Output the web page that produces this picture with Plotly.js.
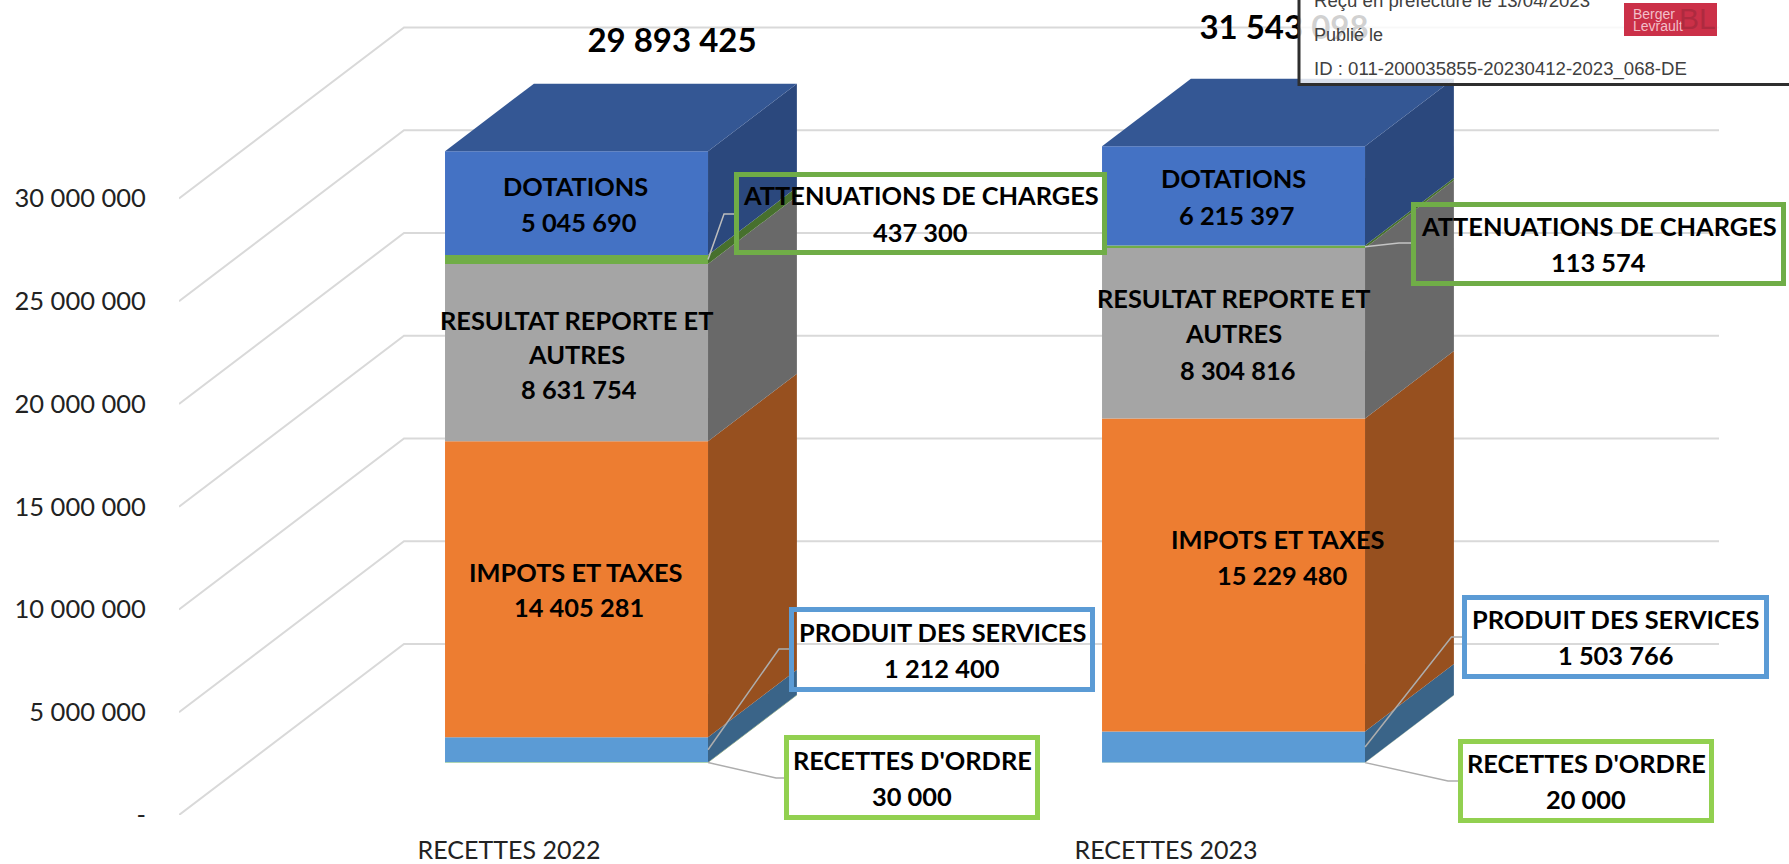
<!DOCTYPE html>
<html lang="fr">
<head>
<meta charset="utf-8">
<title>Recettes 2022 - 2023</title>
<script src="https://cdn.plot.ly/plotly-3.0.1.min.js"></script>
<style>html,body{margin:0;padding:0;background:#fff;overflow:hidden}#chart{width:1789px;height:864px}</style>
</head>
<body>
<div id="chart"></div>
<script>
// ---------- DATA ----------
const categories = ['RECETTES 2022', 'RECETTES 2023'];
const recettesOrdre = [30000, 20000];
const produitServices = [1212400, 1503766];
const impotsTaxes = [14405281, 15229480];
const resultatReporte = [8631754, 8304816];
const attenuations = [437300, 113574];
const dotations = [5045690, 6215397];
const totals = [29893425, 31543098];
const yTickValues = [0, 5000000, 10000000, 15000000, 20000000, 25000000, 30000000];
const yTickLabels = ['-', '5 000 000', '10 000 000', '15 000 000', '20 000 000', '25 000 000', '30 000 000'];

// ---------- GEOMETRY OF THE OBLIQUE PROJECTION ----------
const W = 1789, H = 864, ML = 179, MB = 49;
const PXM = 20.55 / 1e6;                // pixels per euro on the value axis
const AXIS_MAX = 30000000;              // bars are clipped by the axis maximum
const DEPTH_X = 225, DEPTH_V = 171 / PXM;
const F0 = 0.305, F1 = 0.70;            // bar's front and back depth in the floor
const BAR_W = 263;
const CAT_X = [330, 987];               // category centres, in x units
const BAR_OFFSET = -1.1;
const GRID_END = 1540;
const px = p => p - ML;
const pv = p => (H - MB - p) / PXM;
const fmt = n => String(n).replace(/\B(?=(\d{3})+$)/g, ' ');

const series = [
  {name: "RECETTES D'ORDRE", v: recettesOrdre, front: '#92D050', side: '#5d8533'},
  {name: 'PRODUIT DES SERVICES', v: produitServices, front: '#5B9BD5', side: '#3A6488'},
  {name: 'IMPOTS ET TAXES', v: impotsTaxes, front: '#ED7D31', side: '#97501F'},
  {name: 'RESULTAT REPORTE ET AUTRES', v: resultatReporte, front: '#A5A5A5', side: '#696969'},
  {name: 'ATTENUATIONS DE CHARGES', v: attenuations, front: '#70AD47', side: '#47702D'},
  {name: 'DOTATIONS', v: dotations, front: '#4472C4', side: '#2B487D'}
];
const TOP_COLOR = '#345794';

// cumulative stack, clipped to the axis maximum
const cum = [0, 0];
series.forEach(s => {
  s.from = cum.slice();
  s.to = cum.map((c, i) => c + s.v[i]);
  s.to.forEach((t, i) => cum[i] = t);
  s.lo = s.from.map(c => Math.min(c, AXIS_MAX));
  s.hi = s.to.map(c => Math.min(c, AXIS_MAX));
});

const traces = [];
const barLeft = i => CAT_X[i] + BAR_OFFSET - BAR_W / 2;

// front faces
series.forEach(s => {
  traces.push({
    type: 'bar', name: s.name, showlegend: false, hoverinfo: 'skip',
    x: CAT_X.map(c => c + BAR_OFFSET + F0 * DEPTH_X),
    y: s.hi.map((h, i) => h - s.lo[i]),
    base: s.lo.map(l => l + F0 * DEPTH_V),
    width: BAR_W,
    marker: {color: s.front, line: {width: 0}}
  });
});

// side faces and top faces
function poly(xs, ys, color) {
  traces.push({type: 'scatter', mode: 'lines', x: xs.concat(xs[0]), y: ys.concat(ys[0]),
    fill: 'toself', fillcolor: color, line: {width: 0, color: color}, showlegend: false, hoverinfo: 'skip'});
}
categories.forEach((c, i) => {
  const xr = barLeft(i) + BAR_W;
  const a = xr + F0 * DEPTH_X, b = xr + F1 * DEPTH_X;
  series.forEach(s => {
    poly([a, a, b, b],
      [s.lo[i] + F0 * DEPTH_V, s.hi[i] + F0 * DEPTH_V, s.hi[i] + F1 * DEPTH_V, s.lo[i] + F1 * DEPTH_V], s.side);
  });
  const top = series[series.length - 1].hi[i];
  const al = barLeft(i) + F0 * DEPTH_X, bl = barLeft(i) + F1 * DEPTH_X;
  poly([al, bl, b, a], [top + F0 * DEPTH_V, top + F1 * DEPTH_V, top + F1 * DEPTH_V, top + F0 * DEPTH_V], TOP_COLOR);
});

// leader lines: start at the segment's middle on the front right edge
function leader(sIdx, i, elbowPx, endPx, color) {
  const s = series[sIdx];
  const xr = barLeft(i) + BAR_W + F0 * DEPTH_X;
  const mid = (s.lo[i] + s.hi[i]) / 2 + F0 * DEPTH_V;
  traces.push({type: 'scatter', mode: 'lines', showlegend: false, hoverinfo: 'skip',
    x: [xr, px(elbowPx[0]), px(endPx)], y: [mid, pv(elbowPx[1]), pv(elbowPx[1])],
    line: {color: color, width: 1.5}});
}
const LEAD = '#ADADAD';
leader(4, 0, [724, 214], 735, '#BDBDBD');
leader(1, 0, [779, 649], 790, LEAD);
leader(0, 0, [776, 778], 785, LEAD);
leader(4, 1, [1399, 243], 1412, '#C4C4C4');
leader(1, 1, [1451.5, 637], 1463, LEAD);
leader(0, 1, [1448, 781], 1459, LEAD);

// totals: drawn as trace text so the stamp can veil them
traces.push({type: 'scatter', mode: 'text', showlegend: false, hoverinfo: 'skip',
  x: [px(672), px(1284)], y: [pv(44), pv(31)],
  text: totals.map(t => '<b>' + fmt(t) + '</b>'), textposition: 'middle center', cliponaxis: false,
  textfont: {family: 'Lato, Carlito, sans-serif', size: 33, color: '#000'}});

// ---------- GRID ----------
const shapes = [];
yTickValues.forEach(v => {
  shapes.push({type: 'path', layer: 'below', xref: 'x', yref: 'y',
    path: `M 0 ${v} L ${DEPTH_X} ${v + DEPTH_V} L ${GRID_END} ${v + DEPTH_V}`,
    line: {color: '#D9D9D9', width: 2}});
});

// ---------- CALLOUTS AND LABELS ----------
const annotations = [];
const FONT = 'Lato, Carlito, sans-serif';
const paperX = p => (p - ML) / (W - ML);
const paperY = p => (H - MB - p) / (H - MB);
function textAt(cx, cy, txt, size, color, family, anchor) {
  annotations.push({xref: 'paper', yref: 'paper', x: paperX(cx), y: paperY(cy), text: txt,
    showarrow: false, xanchor: anchor || 'center', yanchor: 'middle',
    font: {family: family || FONT, size: size, color: color || '#000'}});
}
function bold(cx, ys, lines) {
  lines.forEach((l, k) => textAt(cx[k] !== undefined ? cx[k] : cx, ys[k], '<b>' + l + '</b>', 25.4));
}
function box(x0, y0, x1, y1, color, lines) {
  shapes.push({type: 'rect', layer: 'above', xref: 'paper', yref: 'paper',
    x0: paperX(x0 + 2.5), x1: paperX(x1 - 2.5), y0: paperY(y0 + 2.5), y1: paperY(y1 - 2.5),
    line: {color: color, width: 5}, fillcolor: 'rgba(0,0,0,0)'});
  const c = (x0 + x1) / 2, m = (y0 + y1) / 2;
  textAt(c, m - 18, '<b>' + lines[0] + '</b>', 25.4);
  textAt(c, m + 18, '<b>' + lines[1] + '</b>', 25.4);
}
const BLUE = '#5B9BD5', GREEN = '#70AD47', LIME = '#92D050';
box(734, 172, 1107, 255, GREEN, [series[4].name, fmt(attenuations[0])]);
box(789, 607, 1095, 692, BLUE, [series[1].name, fmt(produitServices[0])]);
box(784, 735, 1040, 820, LIME, [series[0].name, fmt(recettesOrdre[0])]);
box(1411, 202, 1786, 286, GREEN, [series[4].name, fmt(attenuations[1])]);
box(1462, 595, 1769, 679, BLUE, [series[1].name, fmt(produitServices[1])]);
box(1458, 739, 1714, 823, LIME, [series[0].name, fmt(recettesOrdre[1])]);

bold([575, 579], [186, 222], [series[5].name, fmt(dotations[0])]);
bold([576, 576, 579], [320, 354, 389], ['RESULTAT REPORTE ET', 'AUTRES', fmt(resultatReporte[0])]);
bold([576, 579], [572, 607], [series[2].name, fmt(impotsTaxes[0])]);
bold([1233, 1236], [178, 215], [series[5].name, fmt(dotations[1])]);
bold([1233, 1233, 1237], [298, 333, 370], ['RESULTAT REPORTE ET', 'AUTRES', fmt(resultatReporte[1])]);
bold([1278, 1282], [539, 575], [series[2].name, fmt(impotsTaxes[1])]);

// ---------- STAMP ----------
shapes.push({type: 'rect', layer: 'above', xref: 'paper', yref: 'paper',
  x0: paperX(1299), x1: paperX(1800), y0: paperY(-8), y1: paperY(84.5),
  line: {color: '#2e2e2e', width: 3}, fillcolor: 'rgba(255,255,255,0.82)'});
shapes.push({type: 'path', layer: 'above', xref: 'paper', yref: 'paper',
  path: `M ${paperX(1624)} ${paperY(3)} L ${paperX(1717)} ${paperY(3)} L ${paperX(1717)} ${paperY(36)} L ${paperX(1624)} ${paperY(36)} Z`,
  line: {width: 0}, fillcolor: '#CB3048'});
const STAMP = 'Liberation Sans, Arial, sans-serif';
textAt(1312, 1, 'Reçu en préfecture le 13/04/2023', 18.6, '#404040', STAMP, 'left');
textAt(1312, 35, 'Publié le', 18, '#404040', STAMP, 'left');
textAt(1312, 69, 'ID : 011-200035855-20230412-2023_068-DE', 18.6, '#404040', STAMP, 'left');
textAt(1631, 14, 'Berger', 14, '#F2BFC8', STAMP, 'left');
textAt(1631, 26, 'Levrault', 14, '#F2BFC8', STAMP, 'left');
textAt(1697, 19, 'BL', 30, '#AE2A3F', STAMP, 'center');

// ---------- LAYOUT ----------
const layout = {
  width: W, height: H, autosize: false,
  margin: {l: ML, r: 0, t: 0, b: MB, pad: 0},
  paper_bgcolor: '#fff', plot_bgcolor: 'rgba(0,0,0,0)',
  barmode: 'overlay', showlegend: false,
  xaxis: {range: [0, W - ML], showgrid: false, zeroline: false, showline: false,
    tickmode: 'array', tickvals: CAT_X, ticktext: categories, ticks: 'outside', ticklen: 13,
    tickcolor: 'rgba(0,0,0,0)', tickfont: {family: FONT, size: 25, color: '#222'}, fixedrange: true},
  yaxis: {range: [0, (H - MB) / PXM], showgrid: false, zeroline: false, showline: false,
    tickmode: 'array', tickvals: yTickValues, ticktext: yTickLabels, ticks: 'outside', ticklen: 27,
    tickcolor: 'rgba(0,0,0,0)', tickfont: {family: FONT, size: 25.5, color: '#222'}, fixedrange: true},
  shapes: shapes, annotations: annotations
};
Plotly.newPlot('chart', traces, layout, {displayModeBar: false, staticPlot: true});
</script>
</body>
</html>
